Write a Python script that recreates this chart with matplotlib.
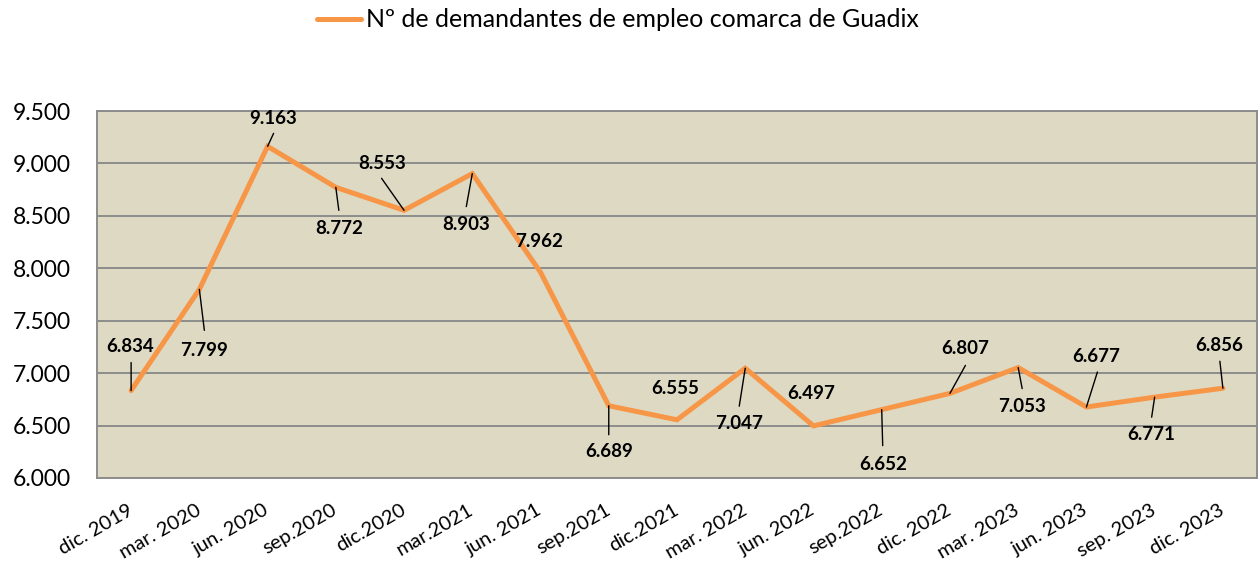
import matplotlib
matplotlib.use("Agg")
import matplotlib.pyplot as plt

# ---- data ----
categories = ["dic. 2019", "mar. 2020", "jun. 2020", "sep.2020", "dic.2020", "mar.2021",
              "jun. 2021", "sep.2021", "dic.2021", "mar. 2022", "jun. 2022", "sep.2022",
              "dic. 2022", "mar. 2023", "jun. 2023", "sep. 2023", "dic. 2023"]
values = [6834, 7799, 9163, 8772, 8553, 8903, 7962, 6689, 6555, 7047, 6497, 6652,
          6807, 7053, 6677, 6771, 6856]
series_name = "Nº de demandantes de empleo comarca de Guadix"
y_ticks = [6000, 6500, 7000, 7500, 8000, 8500, 9000, 9500]

# ---- label placement (offset pixels from point: text centre, leader start) ----
label_offsets = [(-1, 44), (5, -61), (6, 28), (3, -41), (-21.5, 47), (-6, -51), (-1, 31),
                 (0, -46), (-2, 31), (-6, -55), (-2, 32), (1, -55), (15.5, 45), (4, -39),
                 (10, 51), (-3, -37), (-4, 43)]
leader_starts = [(0, 28), (5, -41), (6, 13), (3, -23), (-22.5, 32), (-6, -33), None,
                 (0, -29), None, (-6, -38), None, (1, -36), (15.5, 28), (4, -21),
                 (11, 35), (-3, -20), (-3, 27)]

LINE_COLOR = "#F79646"
BG = "#DDD9C3"
GRID = "#8C8C8C"

plt.rcParams['font.family'] = ['Lato', 'DejaVu Sans']

fig = plt.figure(figsize=(12.59, 5.64), dpi=100)
ax = fig.add_axes([97 / 1259, 1 - 478 / 564, 1160 / 1259, 367 / 564])
ax.set_facecolor(BG)

x = list(range(len(categories)))
ax.plot(x, values, color=LINE_COLOR, lw=3.6, solid_capstyle='round',
        solid_joinstyle='miter', label=series_name, zorder=3)

ax.set_xlim(-0.5, len(categories) - 0.5)
ax.set_ylim(6000, 9500)
ax.set_yticks(y_ticks)
ax.set_yticklabels([f"{v:,}".replace(",", ".") for v in y_ticks], fontsize=16.5)
ax.set_xticks(x)
ax.set_xticklabels(categories, fontsize=14.5, rotation=30, ha='right', va='center',
                   rotation_mode='anchor')
ax.tick_params(axis='both', length=0)
ax.tick_params(axis='y', pad=19)
ax.tick_params(axis='x', pad=22)
ax.yaxis.grid(True, color=GRID, lw=1.4)
ax.set_axisbelow(True)
for s in ax.spines.values():
    s.set_color(GRID)
    s.set_linewidth(1.4)

for i, v in enumerate(values):
    dx, dy = label_offsets[i]
    ax.annotate(f"{v:,}".replace(",", "."), xy=(i, v), xytext=(dx, dy),
                textcoords='offset pixels', ha='center', va='center',
                fontsize=13.5, fontweight='bold', color='black', zorder=5)
    if leader_starts[i] is not None:
        ax.annotate('', xy=(i, v), xytext=leader_starts[i], textcoords='offset pixels',
                    arrowprops=dict(arrowstyle='-', shrinkA=0, shrinkB=0,
                                    color='black', lw=1.0), zorder=4)

fig.legend(loc='upper center', bbox_to_anchor=(0.491, 1.025), frameon=False,
           fontsize=18, handlelength=1.75, handletextpad=0.2)

fig.savefig("out.png", dpi=100)
